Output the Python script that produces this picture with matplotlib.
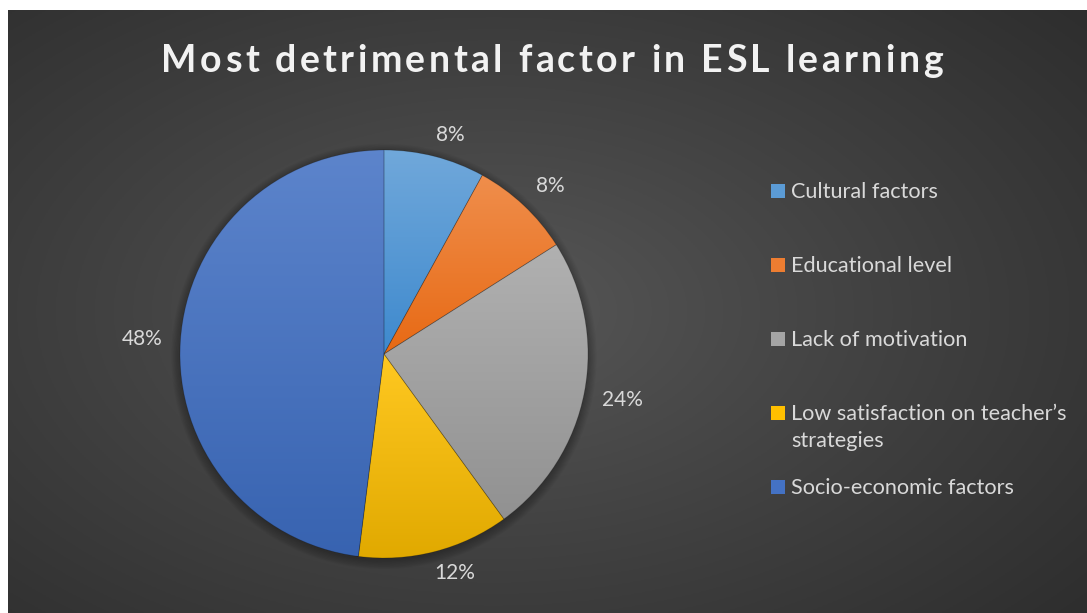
import colorsys
import numpy as np
import matplotlib
matplotlib.use("Agg")
import matplotlib.pyplot as plt
from matplotlib.colors import to_rgb
from matplotlib.patches import Rectangle, Circle

labels = ["Cultural factors", "Educational level", "Lack of motivation",
          "Low satisfaction on teacher’s\nstrategies", "Socio-economic factors"]
shares = [8, 8, 24, 12, 48]
colors = ["#5B9BD5", "#ED7D31", "#A5A5A5", "#FFC000", "#4472C4"]
title = "Most detrimental factor in ESL learning"

plt.rcParams["font.family"] = ["Lato", "DejaVu Sans"]
W, H = 1087, 613
fig = plt.figure(figsize=(W / 100, H / 100), dpi=100)
fig.patch.set_facecolor("white")

# dark panel with a soft radial glow
bg = fig.add_axes([8 / W, 0, 1 - 8 / W, 1 - 10 / H])
bg.set_axis_off()
yy, xx = np.mgrid[0:1:300j, 0:1:540j]
d = np.clip(np.sqrt(((xx - 0.45) / 0.8) ** 2 + ((yy - 0.5) / 0.85) ** 2), 0, 1)
lo, hi = np.array(to_rgb("#2a2a2a")), np.array(to_rgb("#585858"))
img = hi[None, None, :] + (lo - hi)[None, None, :] * d[..., None] ** 0.9
bg.imshow(img, extent=[0, 1, 0, 1], aspect="auto", origin="lower")
bg.set_xlim(0, 1)
bg.set_ylim(0, 1)


def shade(c, f):
    h, l, s = colorsys.rgb_to_hls(*to_rgb(c))
    l = l + (1 - l) * f if f > 0 else l * (1 + f)
    return np.array(colorsys.hls_to_rgb(h, l, s))


# pie, radius 1 == 204 px, centred at (384, 354) from the top-left
ax = fig.add_axes([129 / W, 4 / H, 510 / W, 510 / H])
ax.set_axis_off()
for k in range(8):
    ax.add_patch(Circle((0.0, -0.012), 1.0 + 0.006 * k, color="black", alpha=0.035, lw=0, zorder=0))
wedges, _ = ax.pie(shares, colors=colors, startangle=90, counterclock=False, radius=1,
                   wedgeprops=dict(edgecolor="#00000033", linewidth=0.6))
for w, c in zip(wedges, colors):
    v = w.get_path().vertices
    x0, x1, y0, y1 = v[:, 0].min(), v[:, 0].max(), v[:, 1].min(), v[:, 1].max()
    top = shade(c, 0.13)
    bot = shade(c, -0.12)
    g = np.linspace(0, 1, 200)[:, None, None]
    grad = bot[None, None, :] * (1 - g) + top[None, None, :] * g
    im = ax.imshow(np.repeat(grad, 2, axis=1), extent=[x0, x1, y0, y1], origin="lower",
                   aspect="auto", zorder=w.get_zorder() + 0.1)
    im.set_clip_path(w)
    w.set_zorder(w.get_zorder() + 0.2)
    w.set_facecolor("none")
ax.set_xlim(-1.25, 1.25)
ax.set_ylim(-1.25, 1.25)

# percentage labels just outside the rim
fig.canvas.draw()
rend = fig.canvas.get_renderer()
k = 2.5 / 510
for w, v in zip(wedges, shares):
    a = np.deg2rad((w.theta1 + w.theta2) / 2)
    t = ax.text(0, 0, "%d%%" % v, ha="center", va="center", fontsize=15, color="#d9d9d9")
    bb = t.get_window_extent(rend)
    dx = bb.width / 2 * k * np.clip(3 * np.cos(a), -1, 1)
    dy = bb.height / 2 * k * np.clip(3 * np.sin(a), -1, 1)
    t.set_position((1.09 * np.cos(a) + dx, 1.06 * np.sin(a) + dy))

# legend
for i, (lab, c) in enumerate(zip(labels, colors)):
    yb = H - (198 + 74 * i)
    fig.patches.append(Rectangle((771 / W, yb / H), 14 / W, 14 / H, transform=fig.transFigure,
                                 facecolor=c, edgecolor="none"))
    for j, line in enumerate(lab.split("\n")):
        fig.text(791 / W, (yb - 27 * j) / H, line, ha="left", va="baseline", fontsize=15.6,
                 color="#d9d9d9")

# title, drawn with extra letter spacing
tsize, track = 27, 3.4
probe = fig.text(0, 0, "", fontsize=tsize, fontweight="bold")


def tw(s):
    probe.set_text(s)
    return probe.get_window_extent(rend).width


full = tw(title) + track * (len(title) - 1)
x_start = 552 - full / 2
for i, ch in enumerate(title):
    if ch == " ":
        continue
    xi = x_start + tw(title[:i + 1]) - tw(ch) + track * i
    fig.text(xi / W, (H - 72) / H, ch, ha="left", va="baseline", fontsize=tsize,
             fontweight="bold", color="#f2f2f2")
probe.remove()

fig.savefig("out.png", dpi=100, facecolor=fig.get_facecolor())
